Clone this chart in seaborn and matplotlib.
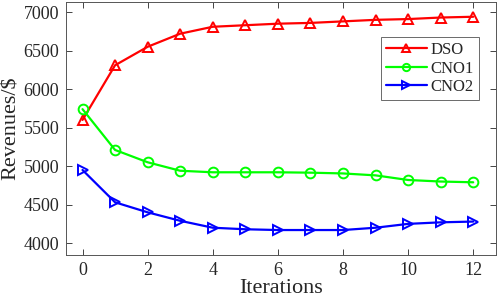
import numpy as np
import pandas as pd
import seaborn as sns
import matplotlib.pyplot as plt

# data
iterations = list(range(13))
dso = [5600, 6310, 6550, 6720, 6810, 6830, 6850, 6860, 6880, 6900, 6910, 6930, 6940]
cno1 = [5740, 5210, 5050, 4940, 4920, 4920, 4920, 4915, 4905, 4880, 4820, 4800, 4790]
cno2 = [4950, 4530, 4400, 4290, 4200, 4180, 4170, 4170, 4170, 4200, 4250, 4270, 4280]

df = pd.DataFrame({"it": iterations, "DSO": dso, "CNO1": cno1, "CNO2": cno2})

sns.set_style("ticks")
plt.rcParams['font.family'] = ['Liberation Serif', 'DejaVu Serif']

fig, ax = plt.subplots(figsize=(4.98, 3.04), dpi=100)

styles = [("DSO", "#ff0000", "^"), ("CNO1", "#00ff00", "o"), ("CNO2", "#0000ff", ">")]
for name, col, mk in styles:
    sns.lineplot(data=df, x="it", y=name, ax=ax, color=col, marker=mk,
                 markersize=7, markerfacecolor="none", markeredgecolor=col,
                 markeredgewidth=1.4, linewidth=1.6, label=name)

ax.set_xlim(-0.5, 12.7)
ax.set_ylim(3845, 7130)
ax.set_xticks(range(0, 13, 2))
ax.set_yticks(range(4000, 7001, 500))
ax.tick_params(direction="in", top=True, right=True, labelsize=13, length=4, width=0.6, pad=5)
for s in ax.spines.values():
    s.set_linewidth(0.7)
    s.set_color("#555555")
ax.set_xlabel("Iterations", fontsize=16, labelpad=0)
ax.set_ylabel("Revenues/$", fontsize=16, labelpad=2)

leg = ax.legend(loc="upper right", bbox_to_anchor=(0.96, 0.862), fontsize=12,
                frameon=True, fancybox=False, edgecolor="#444444", borderpad=0.3,
                handlelength=2.5, handletextpad=0.2, labelspacing=0.15, borderaxespad=0,
                markerscale=0.75)
leg.get_frame().set_linewidth(0.7)

fig.subplots_adjust(left=0.133, right=0.996, top=0.993, bottom=0.161)
fig.savefig("out.png", dpi=100)
